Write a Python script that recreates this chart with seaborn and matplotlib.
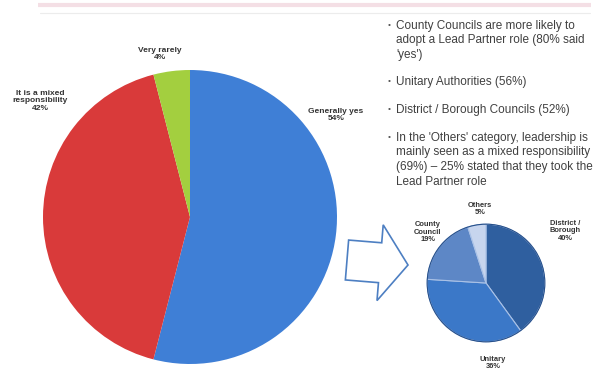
import matplotlib
matplotlib.use("Agg")
import matplotlib.pyplot as plt
import matplotlib.patches as mpatches
import seaborn as sns

# Leadership responses (all respondents)
lead_labels = ["Generally yes", "It is a mixed\nresponsibility", "Very rarely"]
lead_values = [54, 42, 4]
lead_colors = ["#3f7fd6", "#d93a3a", "#a3cf3f"]

# Respondents saying "Generally yes", by council type
type_labels = ["District /\nBorough", "Unitary", "County\nCouncil", "Others"]
type_values = [40, 36, 19, 5]
type_colors = ["#2f5f9f", "#3b78c8", "#5d87c6", "#c7d5ee"]

bullets = [
    "County Councils are more likely to\nadopt a Lead Partner role (80% said\n'yes')",
    "Unitary Authorities (56%)",
    "District / Borough Councils (52%)",
    "In the 'Others' category, leadership is\nmainly seen as a mixed responsibility\n(69%) \u2013 25% stated that they took the\nLead Partner role",
]

sns.set_theme(style="white")
plt.rcParams["font.family"] = ["Liberation Sans", "DejaVu Sans"]

W, H = 603, 376
fig = plt.figure(figsize=(W / 100, H / 100), dpi=100)
fig.patch.set_facecolor("white")

# Full-figure canvas in pixel units for rules, text and the arrow
canvas = fig.add_axes([0, 0, 1, 1])
canvas.set_xlim(0, W)
canvas.set_ylim(H, 0)
canvas.axis("off")

canvas.plot([38, 591], [5, 5], color="#f4dfe5", lw=3, solid_capstyle="butt")
canvas.plot([40, 590], [13, 13], color="#ececec", lw=0.8)


def pie_axes(cx, cy, r):
    return fig.add_axes([(cx - r) / W, (H - cy - r) / H, 2 * r / W, 2 * r / H])


# Large pie
ax1 = pie_axes(190, 217, 147)
ax1.pie(lead_values, colors=lead_colors, startangle=90, counterclock=False,
        wedgeprops=dict(linewidth=0))
ax1.set_xlim(-1, 1)
ax1.set_ylim(-1, 1)

# Small pie
ax2 = pie_axes(486, 283, 60)
ax2.pie(type_values, colors=type_colors, startangle=90, counterclock=False,
        wedgeprops=dict(linewidth=0.8, edgecolor="#a9c1e6"))
ax2.add_patch(mpatches.Circle((0, 0), 1, fill=False, edgecolor="#27508a", lw=0.8))
ax2.set_xlim(-1.02, 1.02)
ax2.set_ylim(-1.02, 1.02)

# Pie labels
lab_kw = dict(ha="center", va="center", fontsize=6.0, color="#333333",
              fontweight="bold", linespacing=1.15)
lead_pos = [(336, 115), (40, 101), (160, 54)]
for name, v, (x, y) in zip(lead_labels, lead_values, lead_pos):
    canvas.text(x, y, f"{name}\n{v}%", **lab_kw)

small_kw = dict(lab_kw, fontsize=5.4)
type_pos = [(565, 231), (493, 363), (428, 232), (480, 209)]
for name, v, (x, y) in zip(type_labels, type_values, type_pos):
    canvas.text(x, y, f"{name}\n{v}%", **small_kw)

# Bullet list
centers = [26, 82, 110, 138]
for txt, y in zip(bullets, centers):
    canvas.text(389, y, "\u2022", fontsize=6, color="#555555", va="center", ha="center")
    canvas.text(396, y - 6.5, txt, fontsize=8.5, color="#404040", va="top", ha="left",
                linespacing=1.3)

# Block arrow linking the two pies
arrow = mpatches.FancyArrow(347, 260, 61, 5, width=40, head_width=76,
                            head_length=28, length_includes_head=True,
                            facecolor="white", edgecolor="#4d7fc2", lw=1.2)
canvas.add_patch(arrow)

fig.savefig("out.png", dpi=100, facecolor="white")
